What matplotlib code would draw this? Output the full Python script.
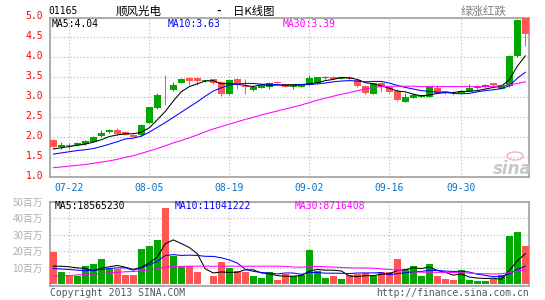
import numpy as np
import matplotlib
matplotlib.use("Agg")
import matplotlib.pyplot as plt
from matplotlib.transforms import ScaledTranslation
from matplotlib.patches import Ellipse

# ---------------- data ----------------
dates = ["07-18", "07-19", "07-22", "07-23", "07-24", "07-25", "07-26", "07-29", "07-30", "07-31",
         "08-01", "08-02", "08-05", "08-06", "08-07", "08-08", "08-09", "08-12", "08-13", "08-14",
         "08-15", "08-16", "08-19", "08-20", "08-21", "08-22", "08-23", "08-26", "08-27", "08-28",
         "08-29", "08-30", "09-02", "09-03", "09-04", "09-05", "09-06", "09-09", "09-10", "09-11",
         "09-12", "09-13", "09-16", "09-17", "09-18", "09-19", "09-23", "09-24", "09-25", "09-26",
         "09-27", "09-30", "10-02", "10-03", "10-04", "10-07", "10-08", "10-09", "10-10", "10-11"]
tick_dates = ["07-22", "08-05", "08-19", "09-02", "09-16", "09-30"]

open_ = [1.93, 1.75, 1.81, 1.81, 1.83, 1.89, 2.03, 2.13, 2.19, 2.13,
         2.07, 2.07, 2.37, 2.73, 3.11, 3.18, 3.37, 3.49, 3.49, 3.40,
         3.45, 3.38, 3.08, 3.46, 3.29, 3.18, 3.24, 3.25, 3.38, 3.33,
         3.26, 3.27, 3.31, 3.35, 3.49, 3.52, 3.46, 3.50, 3.44, 3.28,
         3.09, 3.36, 3.26, 3.15, 2.89, 2.99, 3.02, 3.02, 3.24, 3.16,
         3.12, 3.12, 3.17, 3.23, 3.27, 3.36, 3.22, 3.28, 4.03, 4.98]
close = [1.77, 1.81, 1.78, 1.86, 1.92, 2.02, 2.11, 2.18, 2.08, 2.07,
         2.01, 2.31, 2.75, 3.07, 3.10, 3.31, 3.45, 3.42, 3.42, 3.43,
         3.37, 3.08, 3.43, 3.33, 3.27, 3.25, 3.30, 3.37, 3.36, 3.27,
         3.28, 3.30, 3.49, 3.50, 3.51, 3.47, 3.51, 3.46, 3.28, 3.11,
         3.35, 3.27, 3.14, 2.93, 3.00, 3.07, 3.05, 3.25, 3.12, 3.10,
         3.10, 3.17, 3.24, 3.26, 3.30, 3.30, 3.31, 4.04, 4.93, 4.58]
high = [1.95, 1.88, 1.85, 1.88, 1.94, 2.03, 2.19, 2.20, 2.24, 2.15,
        2.08, 2.33, 2.77, 3.10, 3.56, 3.39, 3.49, 3.52, 3.52, 3.44,
        3.46, 3.40, 3.45, 3.48, 3.45, 3.30, 3.32, 3.39, 3.40, 3.34,
        3.32, 3.31, 3.56, 3.51, 3.54, 3.53, 3.52, 3.53, 3.46, 3.30,
        3.37, 3.38, 3.28, 3.21, 3.12, 3.12, 3.07, 3.26, 3.30, 3.17,
        3.15, 3.18, 3.33, 3.30, 3.33, 3.37, 3.34, 4.06, 4.97, 5.00]
low = [1.76, 1.70, 1.70, 1.80, 1.82, 1.88, 2.00, 2.11, 2.05, 2.05,
       2.00, 2.03, 2.36, 2.70, 2.82, 3.17, 3.36, 3.31, 3.30, 3.39,
       3.33, 3.03, 3.07, 3.20, 3.08, 3.17, 3.23, 3.22, 3.34, 3.26,
       3.20, 3.26, 3.30, 3.34, 3.47, 3.46, 3.45, 3.44, 3.27, 3.08,
       3.08, 3.14, 3.10, 2.90, 2.88, 2.98, 3.01, 3.01, 3.10, 3.08,
       3.07, 3.11, 3.16, 3.22, 3.26, 3.23, 3.20, 3.26, 4.00, 4.29]

ma5 = [1.71, 1.74, 1.77, 1.80, 1.83, 1.88, 1.94, 2.02, 2.06, 2.09,
       2.09, 2.13, 2.24, 2.44, 2.65, 2.91, 3.14, 3.27, 3.34, 3.41,
       3.42, 3.34, 3.35, 3.33, 3.30, 3.27, 3.32, 3.30, 3.31, 3.31,
       3.32, 3.32, 3.34, 3.37, 3.42, 3.45, 3.50, 3.49, 3.45, 3.37,
       3.34, 3.29, 3.23, 3.16, 3.14, 3.08, 3.04, 3.06, 3.10, 3.12,
       3.12, 3.15, 3.15, 3.17, 3.21, 3.25, 3.28, 3.44, 3.78, 4.04]
ma10 = [1.58, 1.61, 1.64, 1.67, 1.69, 1.72, 1.77, 1.83, 1.89, 1.96,
        1.98, 2.03, 2.13, 2.25, 2.37, 2.50, 2.63, 2.76, 2.89, 3.03,
        3.16, 3.24, 3.31, 3.33, 3.35, 3.35, 3.33, 3.33, 3.32, 3.30,
        3.29, 3.32, 3.32, 3.34, 3.36, 3.39, 3.41, 3.42, 3.41, 3.39,
        3.40, 3.40, 3.36, 3.30, 3.25, 3.21, 3.17, 3.15, 3.13, 3.13,
        3.10, 3.09, 3.10, 3.14, 3.17, 3.19, 3.22, 3.29, 3.48, 3.63]
ma30 = [1.24, 1.26, 1.28, 1.30, 1.32, 1.35, 1.38, 1.41, 1.45, 1.50,
        1.54, 1.60, 1.66, 1.72, 1.79, 1.86, 1.92, 1.99, 2.06, 2.14,
        2.21, 2.27, 2.33, 2.39, 2.45, 2.50, 2.56, 2.61, 2.66, 2.71,
        2.76, 2.81, 2.87, 2.93, 2.98, 3.03, 3.08, 3.12, 3.17, 3.21,
        3.25, 3.27, 3.28, 3.28, 3.28, 3.28, 3.27, 3.27, 3.27, 3.27,
        3.27, 3.27, 3.27, 3.27, 3.27, 3.28, 3.29, 3.31, 3.35, 3.39]

# volume, millions of shares
volume = [19.6, 7.3, 5.2, 5.2, 11.0, 12.2, 15.2, 9.6, 9.2, 5.6,
          5.6, 21.7, 23.0, 26.6, 46.0, 17.3, 10.5, 11.3, 7.4, 0.4,
          5.0, 13.5, 9.8, 8.1, 7.7, 5.0, 3.9, 7.3, 2.6, 6.0,
          5.0, 5.6, 20.6, 8.0, 3.8, 5.0, 3.2, 5.6, 6.0, 6.6,
          5.0, 7.4, 7.5, 15.2, 9.1, 11.0, 5.0, 12.2, 5.0, 3.2,
          2.6, 8.6, 2.8, 2.0, 2.0, 3.2, 5.4, 29.3, 31.4, 23.5]
vma5 = [11.0, 11.0, 10.6, 10.0, 9.66, 8.18, 9.76, 10.64, 11.44, 10.36,
        9.04, 10.34, 13.02, 16.5, 24.58, 26.92, 24.68, 22.34, 18.5, 9.38,
        6.92, 7.52, 7.22, 7.36, 8.82, 8.82, 6.9, 6.4, 5.3, 4.96,
        4.96, 5.3, 7.96, 9.04, 8.6, 8.6, 8.12, 5.12, 4.72, 5.28,
        5.28, 6.12, 6.5, 8.34, 8.84, 10.04, 9.56, 10.5, 8.46, 7.28,
        5.6, 6.32, 4.44, 3.84, 3.6, 3.72, 3.08, 8.38, 14.26, 18.57]
vma10 = [9.6, 9.3, 9.0, 8.6, 8.3, 8.5, 9.0, 9.6, 10.0, 10.01,
         8.61, 10.05, 11.83, 13.97, 17.47, 17.98, 17.51, 17.68, 17.5, 16.98,
         16.92, 16.1, 14.78, 12.93, 9.1, 7.87, 7.21, 6.81, 6.33, 6.89,
         6.89, 6.1, 7.18, 7.17, 6.78, 6.78, 6.71, 6.54, 6.88, 6.94,
         6.94, 7.12, 5.81, 6.53, 7.06, 7.66, 7.84, 8.5, 8.4, 8.06,
         7.82, 7.94, 7.47, 6.15, 5.44, 4.66, 4.7, 6.41, 9.05, 11.04]
vma30 = [5.0, 5.2, 5.4, 5.7, 6.0, 6.3, 6.6, 7.0, 7.3, 7.6,
         7.8, 8.2, 8.8, 9.4, 10.5, 10.8, 10.9, 11.0, 11.0, 11.0,
         11.0, 11.0, 11.0, 11.0, 11.0, 11.0, 11.0, 11.0, 11.0, 10.9,
         10.5, 10.4, 10.8, 10.9, 10.7, 10.5, 10.2, 10.0, 9.9, 9.9,
         9.8, 9.4, 9.0, 8.7, 7.8, 7.6, 7.4, 7.4, 7.3, 7.3,
         7.2, 7.0, 6.8, 6.6, 6.4, 6.3, 6.4, 7.1, 8.1, 8.72]

price_ticks = [1.0, 1.5, 2.0, 2.5, 3.0, 3.5, 4.0, 4.5, 5.0]
price_labels = ["1.0", "1.5", "2.0", "2.5", "3.0", "3.5", "4.0", "4.5", "5.0"]
vol_ticks = [10, 20, 30, 40, 50]
vol_labels = ["10百万", "20百万", "30百万", "40百万", "50百万"]

# ---------------- style ----------------
W, H = 545, 300
GREEN = "#00a800"
RED = "#ff5555"
FRAME = "#a0a0a0"
GRID = "#b4b4b4"
MONO = "DejaVu Sans Mono"
CJK = ["Noto Sans CJK SC", "DejaVu Sans"]
LW = 0.75

fig = plt.figure(figsize=(W / 100, H / 100), dpi=100)
fig.patch.set_facecolor("white")


def px_axes(left, top, right, bottom):
    return fig.add_axes([left / W, 1 - bottom / H, (right - left) / W, (bottom - top) / H])


def ftext(x, y, s, **kw):
    fig.text(x / W, 1 - y / H, s, **kw)


ax = px_axes(50, 17.5, 529, 177.3)
axv = px_axes(50, 201.7, 529, 285.5)

idx = np.arange(len(close))
o = np.array(open_)
c = np.array(close)
up = c >= o
colors = np.where(up, GREEN, RED)

# candles
ax.vlines(idx, low, high, colors=colors, lw=0.75, zorder=3)
body_bottom = np.minimum(o, c)
body_h = np.maximum(np.abs(c - o), 0.02)
ax.bar(idx, body_h, bottom=body_bottom, width=0.86, color=colors, linewidth=0, zorder=3)

ax.plot(idx, ma5, color="black", lw=LW, zorder=4)
ax.plot(idx, ma10, color="#0000ff", lw=LW, zorder=4)
ax.plot(idx, ma30, color="#ff00ff", lw=LW, zorder=4)

# volume
axv.bar(idx, volume, width=0.86, color=colors, linewidth=0, zorder=3)
axv.plot(idx, vma5, color="black", lw=LW, zorder=4)
axv.plot(idx, vma10, color="#0000ff", lw=LW, zorder=4)
axv.plot(idx, vma30, color="#ff00ff", lw=LW, zorder=4)

tick_pos = [dates.index(d) for d in tick_dates]
xlim = (-0.41, 59.46)

for a in (ax, axv):
    a.set_xlim(*xlim)
    a.set_xticks(tick_pos)
    a.tick_params(length=0)
    for s in a.spines.values():
        s.set_color(FRAME)
        s.set_linewidth(1.2)
    a.grid(True, color=GRID, linestyle=(0, (1, 2)), linewidth=0.8, zorder=0)
    a.set_axisbelow(True)

ax.set_ylim(1.0, 5.0)
ax.set_yticks(price_ticks)
ax.set_yticklabels(price_labels, fontfamily=MONO, fontsize=7, color="#ff0000")
ax.set_xticklabels(tick_dates, fontfamily=MONO, fontsize=7, color="#0a72c4")
ax.tick_params(axis="y", pad=5)
ax.tick_params(axis="x", pad=4)
for lab in ax.get_yticklabels():
    lab.set_transform(lab.get_transform() + ScaledTranslation(0, 1.5 / 72, fig.dpi_scale_trans))

axv.set_ylim(-0.67, 50)
axv.set_yticks(vol_ticks)
axv.set_yticklabels(vol_labels, fontfamily=CJK, fontsize=7, color="#b0b0b0")
axv.set_xticklabels([])
axv.tick_params(axis="y", pad=5)

# header texts
ftext(48, 11, "01165", fontfamily=MONO, fontsize=7, va="center", ha="left")
ftext(116, 11, "顺风光电", fontfamily=CJK, fontsize=8.3, va="center", ha="left")
ftext(219, 11, "-", fontfamily=MONO, fontsize=8, va="center", ha="center", weight="bold")
ftext(233, 11, "日K线图", fontfamily=CJK, fontsize=8.2, va="center", ha="left")
ftext(461, 11, "绿涨红跌", fontfamily=CJK, fontsize=8.3, va="center", ha="left", color="#808080")

# MA legends
ftext(52, 24, "MA5:4.04", fontfamily=MONO, fontsize=7, va="center", color="black")
ftext(168, 24, "MA10:3.63", fontfamily=MONO, fontsize=7, va="center", color="#0000ff")
ftext(283, 24, "MA30:3.39", fontfamily=MONO, fontsize=7, va="center", color="#ff00ff")
ftext(55, 206, "MA5:18565230", fontfamily=MONO, fontsize=7, va="center", color="black")
ftext(175, 206, "MA10:11041222", fontfamily=MONO, fontsize=7, va="center", color="#0000ff")
ftext(295, 206, "MA30:8716408", fontfamily=MONO, fontsize=7, va="center", color="#ff00ff")

# footer
ftext(50, 292.5, "Copyright 2013 SINA.COM", fontfamily=MONO, fontsize=7, va="center", color="#555555")
ftext(529, 292.5, "http://finance.sina.com.cn", fontfamily=MONO, fontsize=7, va="center",
      ha="right", color="#555555")

# sina watermark
ftext(512, 169, "sina", fontfamily="DejaVu Sans", fontsize=12, style="italic", weight="bold",
      va="center", ha="center", color="#c8c8c8")
fig.patches.append(Ellipse((515 / W, 1 - 156 / H), 16 / W, 8 / H, transform=fig.transFigure,
                           fill=False, edgecolor="#f4bcbc", lw=1.2))

fig.savefig("out.png", dpi=100, facecolor="white")
